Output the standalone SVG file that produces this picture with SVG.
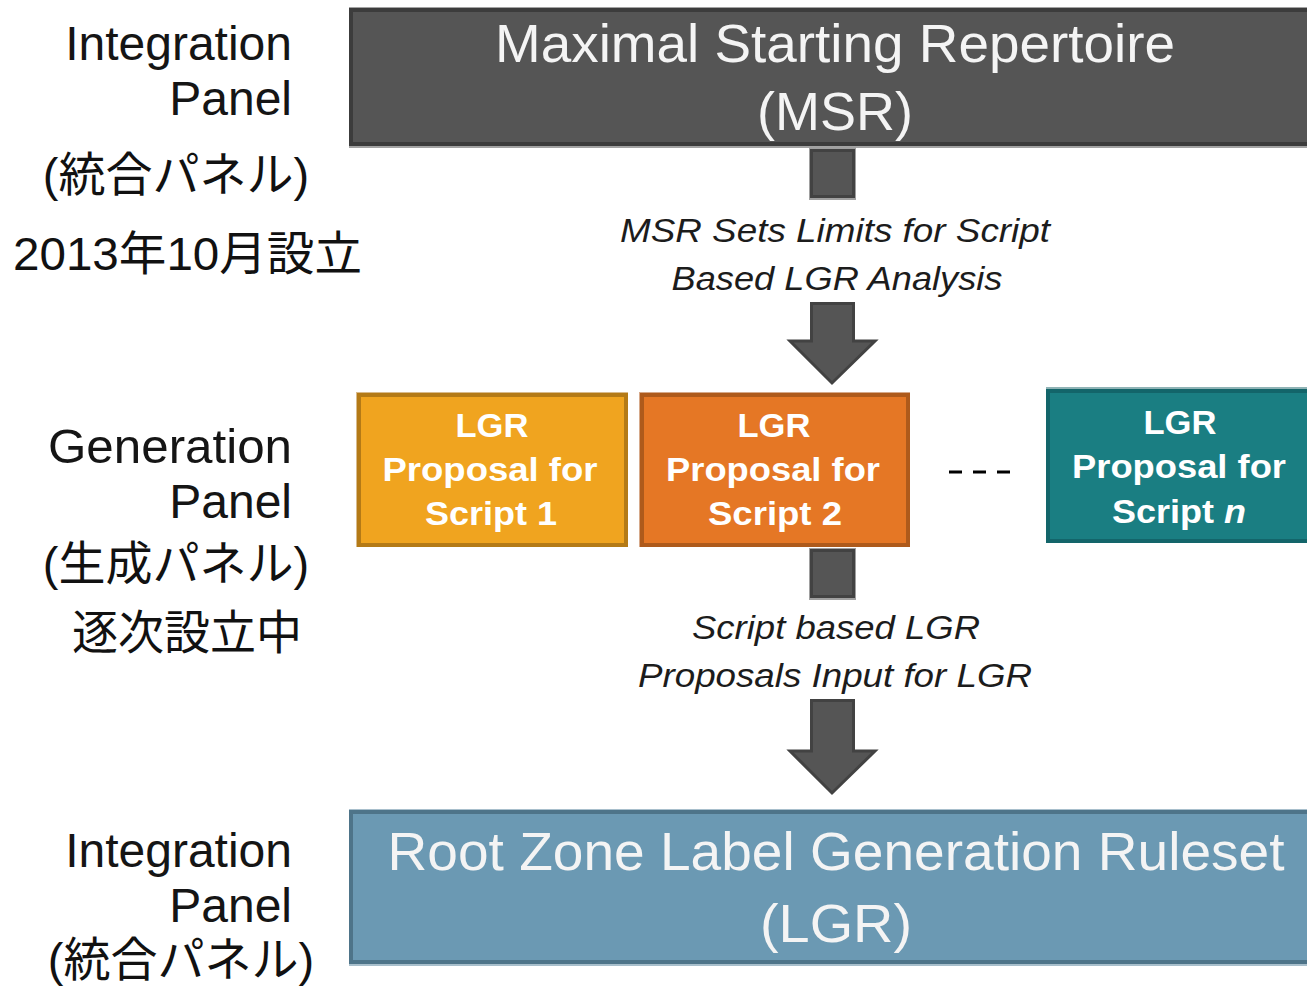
<svg xmlns="http://www.w3.org/2000/svg" width="1307" height="987" viewBox="0 0 1307 987">
  <style>
    .side { font-family: "Liberation Sans", "Noto Sans CJK JP", sans-serif; font-size: 48px; fill: #151515; }
    .jp { font-family: "Liberation Sans", "Noto Sans CJK JP", sans-serif; font-size: 47px; fill: #111; }
    .title { font-family: "Liberation Sans", sans-serif; font-size: 54px; fill: #f4f4f4; text-anchor: middle; }
    .note { font-family: "Liberation Sans", sans-serif; font-style: italic; font-size: 33px; fill: #1c1c1c; text-anchor: middle; }
    .prop { font-family: "Liberation Sans", sans-serif; font-weight: bold; font-size: 33px; fill: #ffffff; text-anchor: middle; }
    .shaft { fill: #555555; stroke: #424242; stroke-width: 3; }
  </style>

  <!-- left-hand panel captions -->
  <g id="label-integration-top">
    <text class="side" x="292" y="60" text-anchor="end">Integration</text>
    <text class="side" x="292" y="115" text-anchor="end">Panel</text>
    <text class="jp" x="176" y="191" text-anchor="middle">(統合パネル)</text>
    <text class="jp" x="13" y="270" textLength="349" lengthAdjust="spacingAndGlyphs">2013年10月設立</text>
  </g>
  <g id="label-generation">
    <text class="side" x="292" y="463" text-anchor="end" textLength="244" lengthAdjust="spacingAndGlyphs">Generation</text>
    <text class="side" x="292" y="518" text-anchor="end">Panel</text>
    <text class="jp" x="176" y="580" text-anchor="middle">(生成パネル)</text>
    <text class="jp" x="72" y="649" textLength="230" lengthAdjust="spacingAndGlyphs">逐次設立中</text>
  </g>
  <g id="label-integration-bottom">
    <text class="side" x="292" y="867" text-anchor="end">Integration</text>
    <text class="side" x="292" y="922" text-anchor="end">Panel</text>
    <text class="jp" x="181" y="976" text-anchor="middle">(統合パネル)</text>
  </g>

  <!-- MSR -->
  <g id="msr">
    <rect x="349" y="7" width="975" height="141" fill="#a3a3a3"/>
    <rect x="351" y="10" width="970" height="134" fill="#555555" stroke="#3c3c3c" stroke-width="4"/>
    <text class="title" x="835" y="62" textLength="680" lengthAdjust="spacingAndGlyphs">Maximal  Starting Repertoire</text>
    <text class="title" x="835" y="130" textLength="156" lengthAdjust="spacingAndGlyphs">(MSR)</text>
  </g>

  <!-- script proposals -->
  <g id="proposal-1">
    <rect x="356" y="392" width="272" height="155" fill="#d9bb8c"/>
    <rect x="359" y="395" width="267" height="150" fill="#f0a41f" stroke="#b47a16" stroke-width="4"/>
    <text class="prop" x="492" y="437" textLength="73" lengthAdjust="spacingAndGlyphs">LGR</text>
    <text class="prop" x="490" y="481" textLength="215" lengthAdjust="spacingAndGlyphs">Proposal for</text>
    <text class="prop" x="491" y="525" textLength="132" lengthAdjust="spacingAndGlyphs">Script 1</text>
  </g>
  <g id="proposal-2">
    <rect x="639" y="392" width="271" height="155" fill="#d6a98a"/>
    <rect x="642" y="395" width="266" height="150" fill="#e57725" stroke="#ae5a1b" stroke-width="4"/>
    <text class="prop" x="774" y="437" textLength="73" lengthAdjust="spacingAndGlyphs">LGR</text>
    <text class="prop" x="773" y="481" textLength="214" lengthAdjust="spacingAndGlyphs">Proposal for</text>
    <text class="prop" x="775" y="525" textLength="134" lengthAdjust="spacingAndGlyphs">Script 2</text>
  </g>
  <g id="ellipsis">
    <line x1="949" y1="472" x2="1011" y2="472" stroke="#000" stroke-width="3" stroke-dasharray="13 11"/>
  </g>
  <g id="proposal-n">
    <rect x="1046" y="387" width="270" height="156" fill="#8fb3b5"/>
    <rect x="1048" y="391" width="268" height="150" fill="#1a7e82" stroke="#13656a" stroke-width="4"/>
    <text class="prop" x="1180" y="434" textLength="73" lengthAdjust="spacingAndGlyphs">LGR</text>
    <text class="prop" x="1179" y="478" textLength="214" lengthAdjust="spacingAndGlyphs">Proposal for</text>
    <text class="prop" x="1179" y="523" textLength="134" lengthAdjust="spacingAndGlyphs">Script <tspan font-style="italic">n</tspan></text>
  </g>

  <!-- root zone LGR -->
  <g id="root-lgr">
    <rect x="349" y="809" width="975" height="157" fill="#a8bfcc"/>
    <rect x="351" y="812" width="970" height="150" fill="#6b99b3" stroke="#4e7489" stroke-width="4"/>
    <text class="title" x="836" y="870" textLength="897" lengthAdjust="spacingAndGlyphs">Root Zone Label  Generation Ruleset</text>
    <text class="title" x="836" y="942" textLength="152" lengthAdjust="spacingAndGlyphs">(LGR)</text>
  </g>

  <!-- connectors -->
  <g id="connectors">
    <rect x="809" y="147" width="47" height="53" fill="#a0a0a0"/>
    <rect class="shaft" x="811.5" y="150.5" width="42" height="46"/>
    <text class="note" x="835" y="242" textLength="430" lengthAdjust="spacingAndGlyphs">MSR Sets Limits for Script</text>
    <text class="note" x="837" y="290" textLength="331" lengthAdjust="spacingAndGlyphs">Based LGR Analysis</text>
    <polygon class="shaft" points="811.5,303.5 853.5,303.5 853.5,341 875,341 832,383 790,341 811.5,341"/>

    <rect x="809" y="548" width="47" height="52" fill="#a0a0a0"/>
    <rect class="shaft" x="811.5" y="550.5" width="42" height="46"/>
    <text class="note" x="836" y="639" textLength="288" lengthAdjust="spacingAndGlyphs">Script based LGR</text>
    <text class="note" x="835" y="687" textLength="394" lengthAdjust="spacingAndGlyphs">Proposals Input for LGR</text>
    <polygon class="shaft" points="811.5,700.5 853.5,700.5 853.5,751 875,751 832,793 790,751 811.5,751"/>
  </g>
</svg>
